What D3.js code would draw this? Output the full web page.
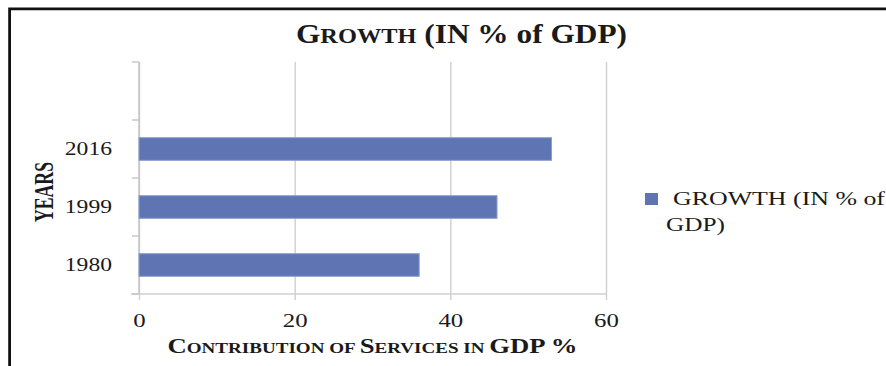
<!DOCTYPE html>
<html>
<head>
<meta charset="utf-8">
<script src="https://cdn.jsdelivr.net/npm/d3@7"></script>
<style>
  body { margin: 0; background: #fff; }
  svg { display: block; }
  text { font-family: "Liberation Serif", "Times New Roman", serif; fill: #1a1a1a; }
</style>
</head>
<body>
<div class="canva"></div>
<script>
// chart data
const years = ['1980', '1999', '2016'];
const growth = [36, 46, 53];
const xTicks = [0, 20, 40, 60];
const seriesName = 'GROWTH (IN % of GDP)';

const width = 886;
const height = 366;

const svg = d3.select('.canva').append('svg')
    .attr('width', width)
    .attr('height', height);

svg.append('rect').attr('width', width).attr('height', height).attr('fill', '#fff');

// outer frame (open at right and bottom, as in the screenshot)
svg.append('path')
    .attr('d', `M${width},8.8 H9.6 V${height}`)
    .attr('fill', 'none')
    .attr('stroke', '#111')
    .attr('stroke-width', 2.8);

const plot = { left: 139, right: 606, top: 62, bottom: 294 };

const x = d3.scaleLinear().domain([0, 60]).range([plot.left, plot.right]);

// one empty slot above 2016, like the original chart
const yDomain = [''].concat(years.slice().reverse());
const y = d3.scaleBand()
    .domain(yDomain)
    .range([plot.top, plot.bottom])
    .paddingInner(0.61)
    .paddingOuter(0.305);
const step = y.step();

// vertical gridlines + x axis
const xAxis = d3.axisBottom(x)
    .tickValues(xTicks)
    .tickSize(-(plot.bottom - plot.top) - 0)
    .tickPadding(20);

const gx = svg.append('g')
    .attr('transform', `translate(0,${plot.bottom})`)
    .call(xAxis);
gx.select('.domain').remove();
gx.selectAll('.tick line')
    .attr('y1', 6)
    .attr('stroke', '#cfcfcf')
    .attr('stroke-width', 1.4);
gx.selectAll('.tick text')
    .attr('font-size', 19)
    .attr('fill', '#1a1a1a')
    .attr('textLength', d => String(d).length * 12.4)
    .attr('lengthAdjust', 'spacingAndGlyphs');

// bottom axis line
svg.append('line')
    .attr('x1', plot.left - 8).attr('x2', plot.right)
    .attr('y1', plot.bottom).attr('y2', plot.bottom)
    .attr('stroke', '#cfcfcf').attr('stroke-width', 1.4);

// left axis line and category boundary ticks
svg.append('line')
    .attr('x1', plot.left).attr('x2', plot.left)
    .attr('y1', plot.top).attr('y2', plot.bottom)
    .attr('stroke', '#c4c4c4').attr('stroke-width', 1.4);

svg.selectAll('.ytick')
    .data(d3.range(yDomain.length + 1))
    .enter()
    .append('line')
    .attr('class', 'ytick')
    .attr('x1', plot.left - 7).attr('x2', plot.left)
    .attr('y1', i => plot.top + i * step)
    .attr('y2', i => plot.top + i * step)
    .attr('stroke', '#c4c4c4').attr('stroke-width', 1.4);

const gy = svg.append('g')
    .attr('transform', `translate(${plot.left},0)`)
    .call(d3.axisLeft(y).tickSize(0).tickPadding(27));
gy.select('.domain').remove();
gy.selectAll('.tick text')
    .attr('font-size', 19)
    .attr('fill', '#1a1a1a')
    .attr('textLength', d => d.length * 11.8)
    .attr('lengthAdjust', 'spacingAndGlyphs');

// bars
svg.selectAll('.bar')
    .data(years)
    .enter()
    .append('rect')
    .attr('class', 'bar')
    .attr('x', x(0))
    .attr('y', d => y(d))
    .attr('width', (d, i) => x(growth[i]) - x(0))
    .attr('height', y.bandwidth())
    .attr('fill', '#5f75b3')
    .attr('stroke', '#8d9dcf')
    .attr('stroke-width', 1);

// small-caps helper: big first letters, smaller rest
function smallCaps(sel, parts, big, small) {
  parts.forEach(p => {
    sel.append('tspan').attr('font-size', p[1] ? big : small).text(p[0]);
  });
}

// title
const title = svg.append('text')
    .attr('x', 461.5)
    .attr('y', 43)
    .attr('text-anchor', 'middle')
    .attr('font-weight', 'bold')
    .attr('textLength', 331)
    .attr('lengthAdjust', 'spacingAndGlyphs');
smallCaps(title, [['G', 1], ['ROWTH', 0], [' (IN % of GDP)', 1]], 27, 21);

// x axis title
const xTitle = svg.append('text')
    .attr('x', (plot.left + plot.right) / 2)
    .attr('y', 353)
    .attr('text-anchor', 'middle')
    .attr('font-weight', 'bold')
    .attr('textLength', 410)
    .attr('lengthAdjust', 'spacingAndGlyphs');
smallCaps(xTitle, [
  ['C', 1], ['ONTRIBUTION OF ', 0], ['S', 1], ['ERVICES IN ', 0], ['GDP %', 1]
], 21, 15);

// y axis title
svg.append('text')
    .attr('transform', 'translate(53,192) rotate(-90)')
    .attr('text-anchor', 'middle')
    .attr('font-weight', 'bold')
    .attr('font-size', 27)
    .attr('textLength', 60)
    .attr('lengthAdjust', 'spacingAndGlyphs')
    .text('YEARS');

// legend
const legend = svg.append('g');
legend.append('rect')
    .attr('x', 645).attr('y', 193)
    .attr('width', 13).attr('height', 12)
    .attr('fill', '#5f75b3');
legend.append('text')
    .attr('x', 673).attr('y', 205)
    .attr('font-size', 18)
    .attr('textLength', 212)
    .attr('lengthAdjust', 'spacingAndGlyphs')
    .text(seriesName.slice(0, 15));
legend.append('text')
    .attr('x', 666).attr('y', 231)
    .attr('font-size', 18)
    .attr('textLength', 59)
    .attr('lengthAdjust', 'spacingAndGlyphs')
    .text(seriesName.slice(16));
</script>
</body>
</html>
